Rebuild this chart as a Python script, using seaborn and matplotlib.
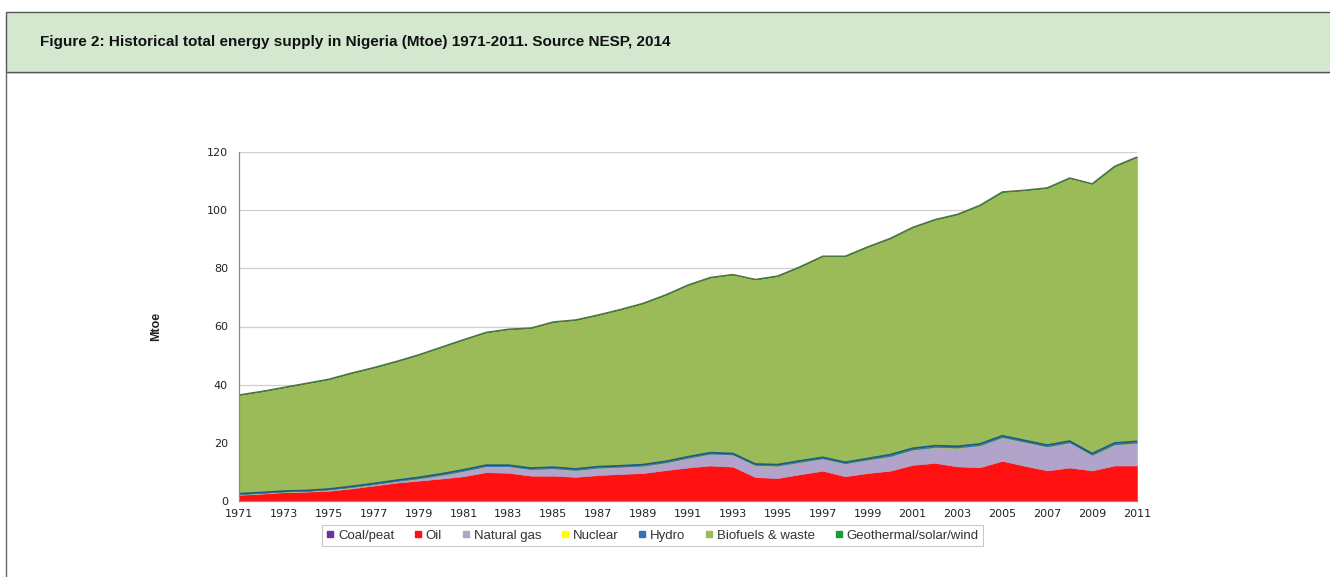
import numpy as np
import pandas as pd
import seaborn as sns
import matplotlib.pyplot as plt
from matplotlib.lines import Line2D
from matplotlib.patches import Rectangle

# Nigeria total primary energy supply by source, Mtoe
years = list(range(1971, 2012))

coal = [0.1, 0.1, 0.1, 0.1, 0.1, 0.1, 0.1, 0.1, 0.1, 0.1,
        0.1, 0.1, 0.1, 0.1, 0.1, 0.1, 0.1, 0.1, 0.1, 0.1,
        0.0, 0.0, 0.0, 0.0, 0.0, 0.0, 0.0, 0.0, 0.0, 0.0,
        0.0, 0.0, 0.0, 0.0, 0.0, 0.0, 0.0, 0.0, 0.0, 0.0, 0.0]
oil = [2.0, 2.4, 2.9, 3.1, 3.4, 4.2, 5.2, 6.2, 6.9, 7.6,
       8.4, 9.8, 9.6, 8.6, 8.6, 8.2, 8.8, 9.2, 9.5, 10.5,
       11.5, 12.2, 11.8, 8.2, 7.9, 9.2, 10.4, 8.5, 9.6, 10.4,
       12.4, 13.1, 11.9, 11.6, 13.8, 12.1, 10.5, 11.5, 10.5, 12.2, 12.2]
natural_gas = [0.2, 0.2, 0.2, 0.2, 0.4, 0.4, 0.4, 0.5, 0.7, 1.2,
               1.8, 2.0, 2.2, 2.2, 2.5, 2.3, 2.5, 2.4, 2.5, 2.6,
               3.3, 4.0, 4.1, 4.1, 4.2, 4.2, 4.2, 4.4, 4.6, 5.0,
               5.2, 5.4, 6.4, 7.5, 8.1, 8.2, 8.2, 8.6, 5.3, 7.2, 7.8]
nuclear = [0.0] * len(years)
hydro = [0.2, 0.2, 0.2, 0.2, 0.2, 0.3, 0.3, 0.3, 0.4, 0.4,
         0.4, 0.4, 0.4, 0.4, 0.4, 0.4, 0.4, 0.4, 0.4, 0.4,
         0.4, 0.4, 0.4, 0.4, 0.4, 0.4, 0.4, 0.4, 0.4, 0.5,
         0.5, 0.5, 0.5, 0.5, 0.5, 0.5, 0.5, 0.5, 0.5, 0.5, 0.5]
biofuels = [34.0, 34.8, 35.7, 36.9, 37.8, 39.0, 39.9, 40.9, 42.2, 43.6,
            44.8, 45.7, 46.8, 48.2, 50.0, 51.3, 52.2, 53.8, 55.5, 57.3,
            59.1, 60.3, 61.6, 63.5, 64.9, 66.8, 69.2, 70.9, 72.8, 74.4,
            76.0, 77.8, 79.8, 82.1, 83.9, 86.1, 88.5, 90.5, 92.8, 95.2, 97.8]
geothermal = [0.0] * len(years)

labels = ['Coal/peat', 'Oil', 'Natural gas', 'Nuclear', 'Hydro',
          'Biofuels & waste', 'Geothermal/solar/wind']
colors = ['#7030a0', '#ff1111', '#b1a3c9', '#ffff00', '#2e75b6',
          '#9bbb59', '#1a9a3a']

df = pd.DataFrame({'Year': years, 'Coal/peat': coal, 'Oil': oil,
                   'Natural gas': natural_gas, 'Nuclear': nuclear,
                   'Hydro': hydro, 'Biofuels & waste': biofuels,
                   'Geothermal/solar/wind': geothermal})

sns.set_theme(style='white')
plt.rcParams['font.family'] = ['DejaVu Sans']
arial = ['Liberation Sans', 'DejaVu Sans']

fig = plt.figure(figsize=(13.3, 5.77), dpi=100)

# header band and frame
fig.patches.append(Rectangle((6 / 1330, 1 - 72 / 577), 1.1, 60 / 577, transform=fig.transFigure,
                             facecolor='#d4e8d0', edgecolor='#555555', linewidth=1.0, zorder=1))
fig.patches.append(Rectangle((6 / 1330, -0.1), 1.1, 1.1 - 72 / 577, transform=fig.transFigure,
                             facecolor='none', edgecolor='#666666', linewidth=1.0, zorder=0))
fig.text(40 / 1330, 1 - 42 / 577,
         'Figure 2: Historical total energy supply in Nigeria (Mtoe) 1971-2011. Source NESP, 2014',
         family=arial, fontsize=11, fontweight='bold',
         color='#111111', va='center', ha='left')

ax = fig.add_axes([239 / 1330, 76 / 577, 898 / 1330, 349 / 577])

polys = ax.stackplot(df['Year'], [df[c] for c in labels], colors=colors, linewidth=0.4)
for p, c in zip(polys, colors):
    p.set_edgecolor(c)
    p.set_zorder(2)

# outline lines like the original Excel chart
cum = df[labels].cumsum(axis=1)
sns.lineplot(x=df['Year'], y=cum['Hydro'], color='#1f5a86', linewidth=1.3, ax=ax, zorder=3)
sns.lineplot(x=df['Year'], y=cum['Geothermal/solar/wind'], color='#5d6b45', linewidth=0.9, ax=ax, zorder=3)

ax.set_xlim(1971, 2011)
ax.set_ylim(0, 120)
ax.set_yticks(range(0, 121, 20))
ax.set_xticks(range(1971, 2012, 2))
ax.set_xticks(range(1971, 2012), minor=True)
ax.grid(axis='y', color='#cfcfcf', linewidth=0.9, zorder=0)
ax.set_axisbelow(True)
for s in ['top', 'right']:
    ax.spines[s].set_visible(False)
for s in ['left', 'bottom']:
    ax.spines[s].set_color('#8a8a8a')
    ax.spines[s].set_linewidth(0.9)
    ax.spines[s].set_zorder(4)
ax.tick_params(axis='both', which='both', direction='out', colors='#8a8a8a',
               labelcolor='#222222', labelsize=8)
ax.tick_params(axis='y', length=5, width=0.8, pad=3)
ax.tick_params(axis='x', which='major', length=3, width=0.8, pad=3)
ax.tick_params(axis='x', which='minor', length=3, width=0.8)
ax.set_xlabel('')
ax.set_ylabel('Mtoe', fontsize=9, fontweight='bold', color='#222222',
              family=['Liberation Sans Narrow', 'Liberation Sans', 'DejaVu Sans'])
ax.yaxis.set_label_coords(-0.086, 0.5)

handles = [Line2D([], [], marker='s', linestyle='none', markersize=5,
                  markerfacecolor=c, markeredgecolor=c) for c in colors]
leg = fig.legend(handles, labels, loc='center', bbox_to_anchor=(0.4906, 0.072),
                 ncol=7, frameon=True, fancybox=False,
                 handlelength=0.6, handletextpad=0.3, columnspacing=1.5,
                 borderpad=0.3, prop={'family': arial, 'size': 9.5})
leg.get_frame().set_edgecolor('#bbbbbb')
leg.get_frame().set_linewidth(0.8)
for t in leg.get_texts():
    t.set_color('#333333')

fig.savefig('out.png', dpi=100)
